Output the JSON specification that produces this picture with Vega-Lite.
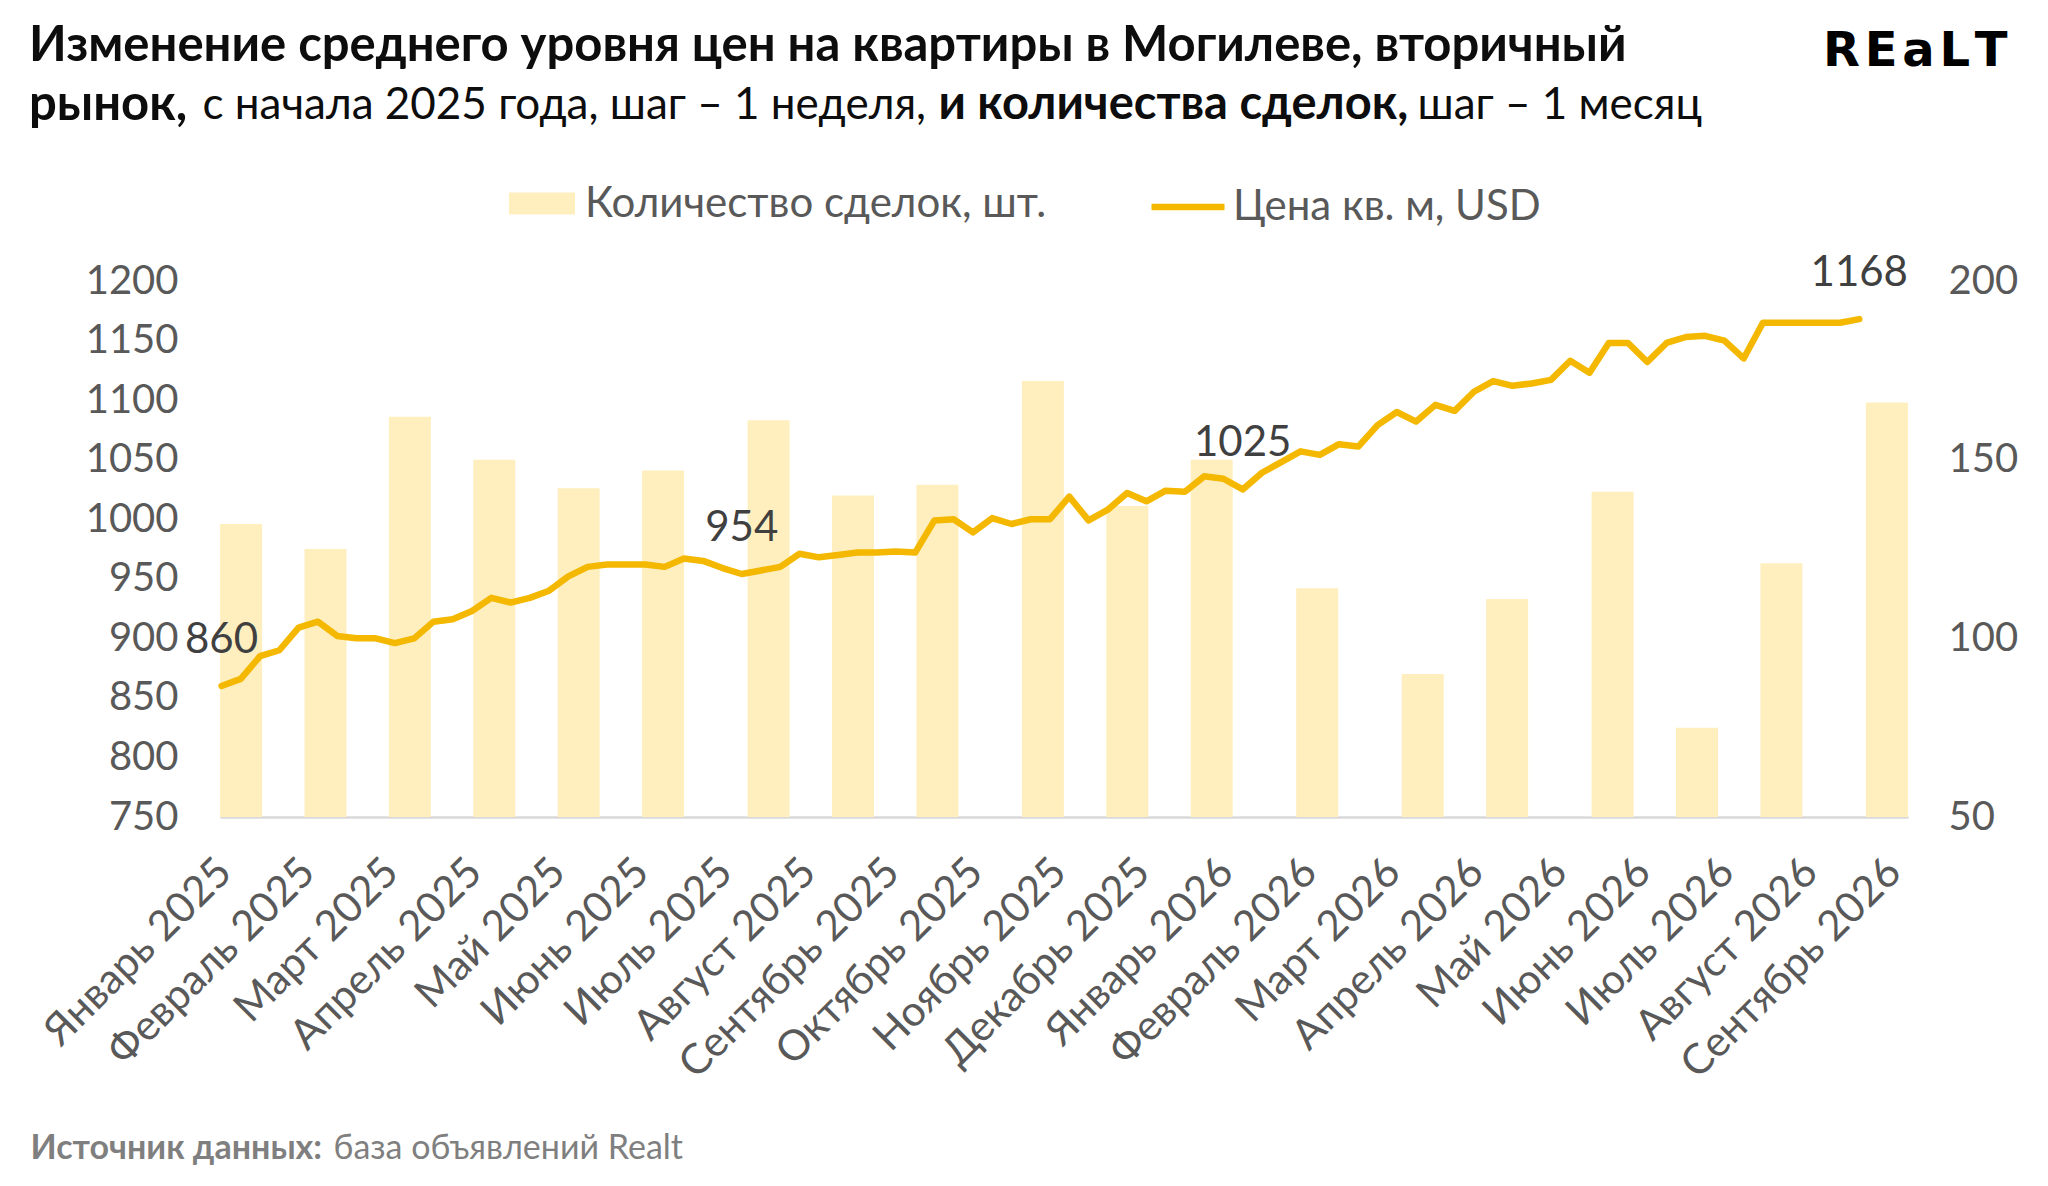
{
  "$schema": "https://vega.github.io/schema/vega-lite/v6.json",
  "autosize": {"type": "none"},
  "width": 1688,
  "height": 536,
  "padding": {"left": 220, "top": 281, "right": 140, "bottom": 369},
  "background": "white",
  "config": {"view": {"stroke": null}, "font": "Lato"},
  "title": {
    "text": ["Изменение среднего уровня цен на квартиры в Могилеве, вторичный", "рынок,"],
    "anchor": "start",
    "frame": "group",
    "dx": -191,
    "dy": 107,
    "font": "Lato",
    "fontSize": 49,
    "fontWeight": "bold",
    "color": "#0d0d0d",
    "lineHeight": 59
  },
  "layer": [
    {
      "data": {
        "values": [
          {"slot": 1, "deals": 132}, {"slot": 5, "deals": 125}, {"slot": 9, "deals": 162},
          {"slot": 13, "deals": 150}, {"slot": 17, "deals": 142}, {"slot": 21, "deals": 147},
          {"slot": 26, "deals": 161}, {"slot": 30, "deals": 140}, {"slot": 34, "deals": 143},
          {"slot": 39, "deals": 172}, {"slot": 43, "deals": 137}, {"slot": 47, "deals": 150},
          {"slot": 52, "deals": 114}, {"slot": 57, "deals": 90}, {"slot": 61, "deals": 111},
          {"slot": 66, "deals": 141}, {"slot": 70, "deals": 75}, {"slot": 74, "deals": 121},
          {"slot": 79, "deals": 166}
        ]
      },
      "mark": {"type": "bar", "width": 42},
      "encoding": {
        "x": {
          "field": "slot", "type": "quantitative",
          "scale": {"domain": [0, 80], "nice": false, "zero": false, "padding": 0},
          "axis": {
            "orient": "top", "labels": false, "ticks": false, "domain": false, "grid": false,
            "title": "и количества сделок,",
            "titleFont": "Lato", "titleFontSize": 47, "titleFontWeight": "bold", "titleColor": "#0d0d0d",
            "titleAngle": 0, "titleAlign": "left", "titleBaseline": "alphabetic", "titleLimit": 2000,
            "titleX": 718, "titleY": -163
          }
        },
        "y": {
          "field": "deals", "type": "quantitative",
          "scale": {"domain": [50, 200], "nice": false, "zero": false},
          "axis": {
            "orient": "right", "values": [50, 100, 150, 200], "format": "d", "ticks": false, "domain": false, "grid": false,
            "labelFont": "Lato", "labelFontSize": 40, "labelColor": "#595959", "labelPadding": 40,
            "title": "R\u200aE\u200aa\u200aL\u200aT",
            "titleFont": "DejaVu Sans", "titleFontSize": 48, "titleFontWeight": "bold", "titleColor": "#000000",
            "titleAngle": 0, "titleAlign": "right", "titleBaseline": "alphabetic", "titleLimit": 2000,
            "titleX": 99, "titleY": -216
          }
        },
        "y2": {"datum": 50},
        "color": {
          "datum": "Количество сделок, шт.",
          "scale": {"range": ["#FFEFBF"]},
          "legend": {
            "orient": "none", "legendX": 300, "legendY": -99.5, "title": null, "padding": 0,
            "symbolType": "M-1.5,-0.5H1.5V0.5H-1.5Z", "symbolSize": 1936, "symbolStrokeWidth": 0,
            "labelFont": "Lato", "labelFontSize": 42, "labelColor": "#595959", "labelOffset": 21, "labelLimit": 2000
          }
        }
      }
    },
    {
      "data": {
        "values": [
          {"m": "Январь 2025"}, {"m": "Февраль 2025"}, {"m": "Март 2025"}, {"m": "Апрель 2025"},
          {"m": "Май 2025"}, {"m": "Июнь 2025"}, {"m": "Июль 2025"}, {"m": "Август 2025"},
          {"m": "Сентябрь 2025"}, {"m": "Октябрь 2025"}, {"m": "Ноябрь 2025"}, {"m": "Декабрь 2025"},
          {"m": "Январь 2026"}, {"m": "Февраль 2026"}, {"m": "Март 2026"}, {"m": "Апрель 2026"},
          {"m": "Май 2026"}, {"m": "Июнь 2026"}, {"m": "Июль 2026"}, {"m": "Август 2026"},
          {"m": "Сентябрь 2026"}
        ]
      },
      "mark": {"type": "point", "opacity": 0},
      "encoding": {
        "x": {
          "field": "m", "type": "ordinal", "sort": null,
          "scale": {"type": "point", "padding": 0.11},
          "axis": {
            "orient": "bottom", "ticks": false, "grid": false,
            "domain": true, "domainColor": "#D9D9D9", "domainWidth": 2.5,
            "labelAngle": -45, "labelAlign": "right", "labelBaseline": "middle",
            "labelPadding": 48, "labelOffset": -5, "labelOverlap": false, "labelBound": false, "labelLimit": 2000,
            "labelFont": "Lato", "labelFontSize": 42, "labelColor": "#595959",
            "title": "Источник данных:",
            "titleFont": "Lato", "titleFontSize": 34, "titleFontWeight": "bold", "titleColor": "#7F7F7F",
            "titleAngle": 0, "titleAlign": "left", "titleBaseline": "alphabetic", "titleLimit": 2000,
            "titleX": -190, "titleY": 341
          }
        },
        "y": {
          "datum": 0, "type": "quantitative",
          "scale": {"domain": [0, 1]},
          "axis": {
            "orient": "left", "labels": false, "ticks": false, "domain": false, "grid": false,
            "title": "база объявлений Realt",
            "titleFont": "Lato", "titleFontSize": 34, "titleFontWeight": "normal", "titleColor": "#7F7F7F",
            "titleAngle": 0, "titleAlign": "left", "titleBaseline": "alphabetic", "titleLimit": 2000,
            "titleX": 113, "titleY": 877
          }
        }
      }
    },
    {
      "data": {
        "values": [
          {"w": 0, "p": 860}, {"w": 1, "p": 866}, {"w": 2, "p": 885}, {"w": 3, "p": 890},
          {"w": 4, "p": 909}, {"w": 5, "p": 914}, {"w": 6, "p": 902}, {"w": 7, "p": 900},
          {"w": 8, "p": 900}, {"w": 9, "p": 896}, {"w": 10, "p": 900}, {"w": 11, "p": 914},
          {"w": 12, "p": 916}, {"w": 13, "p": 923}, {"w": 14, "p": 934}, {"w": 15, "p": 930},
          {"w": 16, "p": 934}, {"w": 17, "p": 940}, {"w": 18, "p": 952}, {"w": 19, "p": 960},
          {"w": 20, "p": 962}, {"w": 21, "p": 962}, {"w": 22, "p": 962}, {"w": 23, "p": 960},
          {"w": 24, "p": 967}, {"w": 25, "p": 965}, {"w": 26, "p": 959}, {"w": 27, "p": 954},
          {"w": 28, "p": 957}, {"w": 29, "p": 960}, {"w": 30, "p": 971}, {"w": 31, "p": 968},
          {"w": 32, "p": 970}, {"w": 33, "p": 972}, {"w": 34, "p": 972}, {"w": 35, "p": 973},
          {"w": 36, "p": 972}, {"w": 37, "p": 999}, {"w": 38, "p": 1000}, {"w": 39, "p": 989},
          {"w": 40, "p": 1001}, {"w": 41, "p": 996}, {"w": 42, "p": 1000}, {"w": 43, "p": 1000},
          {"w": 44, "p": 1019}, {"w": 45, "p": 999}, {"w": 46, "p": 1008}, {"w": 47, "p": 1022},
          {"w": 48, "p": 1015}, {"w": 49, "p": 1024}, {"w": 50, "p": 1023}, {"w": 51, "p": 1036},
          {"w": 52, "p": 1034}, {"w": 53, "p": 1025}, {"w": 54, "p": 1039}, {"w": 55, "p": 1048},
          {"w": 56, "p": 1057}, {"w": 57, "p": 1054}, {"w": 58, "p": 1063}, {"w": 59, "p": 1061},
          {"w": 60, "p": 1079}, {"w": 61, "p": 1090}, {"w": 62, "p": 1082}, {"w": 63, "p": 1096},
          {"w": 64, "p": 1091}, {"w": 65, "p": 1107}, {"w": 66, "p": 1116}, {"w": 67, "p": 1112},
          {"w": 68, "p": 1114}, {"w": 69, "p": 1117}, {"w": 70, "p": 1133}, {"w": 71, "p": 1123},
          {"w": 72, "p": 1148}, {"w": 73, "p": 1148}, {"w": 74, "p": 1132}, {"w": 75, "p": 1148},
          {"w": 76, "p": 1153}, {"w": 77, "p": 1154}, {"w": 78, "p": 1150}, {"w": 79, "p": 1135},
          {"w": 80, "p": 1165}, {"w": 81, "p": 1165}, {"w": 82, "p": 1165}, {"w": 83, "p": 1165},
          {"w": 84, "p": 1165}, {"w": 85, "p": 1168}
        ]
      },
      "encoding": {
        "x": {
          "field": "w", "type": "quantitative",
          "scale": {"domain": [-0.08, 87.53], "nice": false, "zero": false},
          "axis": {
            "orient": "top", "labels": false, "ticks": false, "domain": false, "grid": false,
            "title": "с начала 2025 года, шаг – 1 неделя,",
            "titleFont": "Lato", "titleFontSize": 44, "titleFontWeight": "normal", "titleColor": "#0d0d0d",
            "titleAngle": 0, "titleAlign": "left", "titleBaseline": "alphabetic", "titleLimit": 2000,
            "titleX": -18, "titleY": -163
          }
        },
        "y": {
          "field": "p", "type": "quantitative",
          "scale": {"domain": [750, 1200], "nice": false, "zero": false},
          "axis": {
            "orient": "left", "values": [750, 800, 850, 900, 950, 1000, 1050, 1100, 1150, 1200], "format": "d",
            "ticks": false, "domain": false, "grid": false,
            "labelFont": "Lato", "labelFontSize": 40, "labelColor": "#595959", "labelPadding": 42,
            "title": "шаг – 1 месяц",
            "titleFont": "Lato", "titleFontSize": 44, "titleFontWeight": "normal", "titleColor": "#0d0d0d",
            "titleAngle": 0, "titleAlign": "left", "titleBaseline": "alphabetic", "titleLimit": 2000,
            "titleX": 1197, "titleY": -163
          }
        }
      },
      "layer": [
        {
          "mark": {"type": "line", "strokeWidth": 6.5, "strokeCap": "round", "strokeJoin": "round"},
          "encoding": {
            "stroke": {
              "datum": "Цена кв. м, USD",
              "scale": {"range": ["#F4B800"]},
              "legend": {
                "orient": "none", "legendX": 928, "legendY": -114, "title": null, "padding": 0,
                "symbolType": "stroke", "symbolSize": 5329, "symbolStrokeWidth": 6.5,
                "labelFont": "Lato", "labelFontSize": 42, "labelColor": "#595959", "labelOffset": 5, "labelLimit": 2000
              }
            }
          }
        },
        {
          "transform": [{"filter": "indexof([0, 27, 53, 85], datum.w) >= 0"}],
          "mark": {"type": "text", "dy": -46, "fontSize": 42, "font": "Lato", "color": "#404040", "baseline": "middle", "align": "center"},
          "encoding": {"text": {"field": "p", "type": "quantitative"}}
        }
      ]
    }
  ],
  "resolve": {"scale": {"x": "independent", "y": "independent"}}
}
